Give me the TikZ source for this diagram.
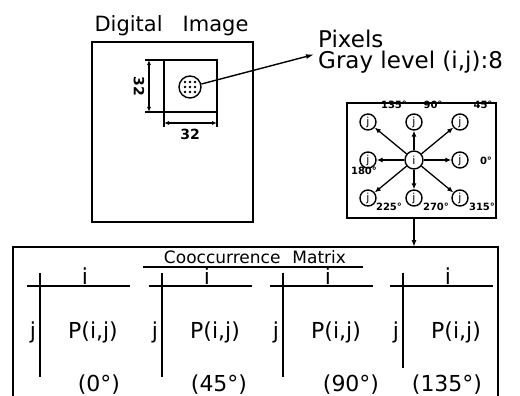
\documentclass[tikz,border=0pt]{standalone}
\usepackage{fontspec}
\setmainfont{DejaVu Sans}
\usetikzlibrary{arrows.meta}
\tikzset{
  thickline/.style={line width=1.8pt},
  dimline/.style={line width=1.2pt},
  dimarrow/.style={line width=1.2pt,{Latex[length=5pt,width=4pt]}-{Latex[length=5pt,width=4pt]}},
  nbr/.style={circle,draw,line width=1.4pt,minimum size=16pt,inner sep=0pt,font=\fontsize{11}{11}\selectfont},
  ang/.style={font=\fontsize{10}{10}\selectfont\bfseries,inner sep=0pt},
  big/.style={font=\fontsize{22}{22}\selectfont,inner sep=0pt,anchor=base},
}
\begin{document}
\begin{tikzpicture}[x=1pt,y=-1pt]
  \useasboundingbox (0,0) rectangle (520,396);
  % digital image with the 32x32 window
  \node[font=\fontsize{21}{21}\selectfont,inner sep=0pt,anchor=base] (imgtitle) at (171.5,31.5) {Digital\hspace{20pt}Image};
  \draw[thickline] (92,42) rectangle (253,222);
  \draw[thickline] (164,60) rectangle (217,112);
  \draw[dimline] (145,60) -- (164,60) (145,112) -- (164,112);
  \draw[dimline] (164,112) -- (164,127) (217,112) -- (217,127);
  \draw[dimarrow] (149,60) -- (149,112);
  \draw[dimarrow] (164,123) -- (217,123);
  \node[font=\fontsize{14}{14}\selectfont\bfseries,rotate=-90,inner sep=0pt] (dimv) at (139,86) {32};
  \node[font=\fontsize{14}{14}\selectfont\bfseries,inner sep=0pt] (dimh) at (190,134) {32};
  \node[circle,draw,line width=1.4pt,minimum size=22pt,inner sep=0pt] (pix) at (190,87) {};
  \foreach \dx in {-5,0,5}
    \foreach \dy in {-5,0,5}
      \fill (pix.center) ++(\dx,\dy) circle (1.3pt);
  \node[font=\fontsize{23}{21}\selectfont,align=left,inner sep=0pt,anchor=west] (pixlbl) at (318,51.5) {Pixels\\Gray level (i,j):8};
  \draw[line width=1.4pt,-{Latex[length=8pt,width=5pt]}] (pix) -- ([xshift=-4pt,yshift=-3pt]pixlbl.west);
  % neighbourhood of a pixel
  \node[draw,thickline,minimum width=149pt,minimum height=115pt,inner sep=0pt] (nbhd) at (421.5,160.5) {};
  \node[nbr,minimum size=18pt] (ctr) at (414,160) {i};
  \foreach \a/\x/\y in {0/460/160, 45/460/122, 90/414/122, 135/368/122, 180/368/160, 225/368/198, 270/414/198, 315/460/198} {
    \node[nbr] (n\a) at (\x,\y) {j};
    \draw[line width=1.3pt,-{Latex[length=6pt,width=5pt]}] (ctr) -- (n\a);
  }
  \foreach \a/\x/\y in {0/486/161, 45/483/105, 90/433/105, 135/394/105, 180/364/171, 225/389/207, 270/436/207, 315/482/207}
    \node[ang] (l\a) at (\x,\y) {\a°};
  \coordinate (mtop) at (414,247);
  \draw[line width=1.4pt,-{Latex[length=7pt,width=5pt]}] (ctr |- nbhd.south) -- (mtop);
  % cooccurrence matrices
  \draw[thickline] (13,396) -- (13,247) -- (498,247) -- (498,396);
  \node[font=\fontsize{17}{17}\selectfont,inner sep=0pt,anchor=base] (mattitle) at (255,263) {Cooccurrence\hspace{12pt}Matrix};
  \draw[thickline] (143,267) -- (363,267);
  \foreach \k/\vx/\off/\vb in {0/40/59/377, 45/162/57/377, 90/283/68/377, 135/403/44/368} {
    \draw[thickline] (\vx-13,286) -- (\vx+90,286);
    \draw[thickline] (\vx,273) -- (\vx,\vb);
    \node[big] (i\k) at (\vx+45,284) {i};
    \node[big] (j\k) at (\vx-7,338) {j};
    \node[big] (p\k) at (\vx+53,338) {P(i,j)};
    \node[big] (d\k) at (\vx+\off,391) {(\k°)};
  }
\end{tikzpicture}
\end{document}
